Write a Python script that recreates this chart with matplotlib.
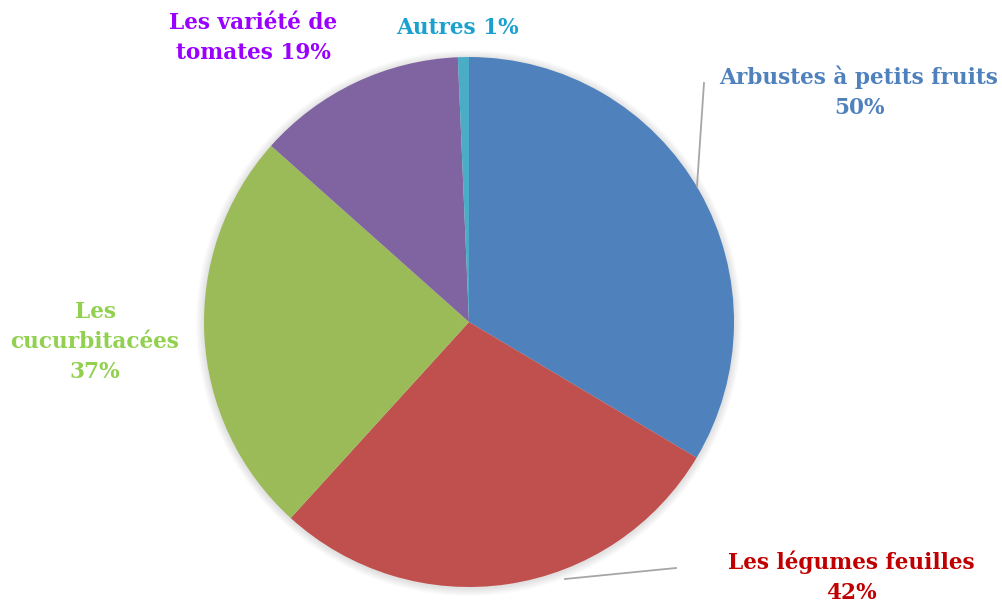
import matplotlib
matplotlib.use("Agg")
import matplotlib.pyplot as plt
from matplotlib.patches import Circle

# data
categories = ["Arbustes à petits fruits", "Les légumes feuilles", "Les cucurbitacées",
              "Les variété de tomates", "Autres"]
values = [50, 42, 37, 19, 1]
slice_colors = ["#4F81BD", "#C0504D", "#9BBB59", "#8064A2", "#4BACC6"]
label_texts = ["Arbustes à petits fruits\n50%", "Les légumes feuilles\n42%",
               "Les\ncucurbitacées\n37%", "Les variété de\ntomates 19%", "Autres 1%"]
label_colors = ["#4F81BD", "#C00000", "#92D050", "#9900FF", "#1BA1D0"]

W, H = 1002, 603
fig = plt.figure(figsize=(W / 100, H / 100), dpi=100)

cx, cy, r = 469, 322, 265
ax = fig.add_axes([(cx - r) / W, (H - cy - r) / H, 2 * r / W, 2 * r / H])
ax.set_xlim(-1, 1)
ax.set_ylim(-1, 1)
ax.set_aspect("equal")
ax.axis("off")

# soft glow around the pie
for i in range(10):
    ax.add_patch(Circle((0, -0.004), 1 + 0.003 * (i + 1), color="black",
                        alpha=0.013, lw=0, zorder=0, clip_on=False))

ax.pie(values, colors=slice_colors, startangle=90, counterclock=False,
       radius=1, wedgeprops=dict(linewidth=0))
ax.set_xlim(-1, 1)
ax.set_ylim(-1, 1)

def px(x, y):
    # pixel coordinates -> data coordinates of the pie axes
    return (x - cx) / r, (cy - y) / r

label_pos = [(859, 92), (851, 577), (95, 342), (253, 38), (457, 28)]
for txt, col, (x, y) in zip(label_texts, label_colors, label_pos):
    ax.text(*px(x, y), txt, color=col, ha="center", va="center",
            fontsize=15.6, fontweight="bold", family="DejaVu Serif",
            linespacing=1.45, clip_on=False)

# leader lines
lines = [[(697, 186), (704, 83)], [(565, 579), (676, 568)]]
for (x0, y0), (x1, y1) in lines:
    a = px(x0, y0)
    b = px(x1, y1)
    ax.plot([a[0], b[0]], [a[1], b[1]], color="#A6A6A6", lw=1.3,
            clip_on=False)

fig.savefig("out.png", dpi=100)
